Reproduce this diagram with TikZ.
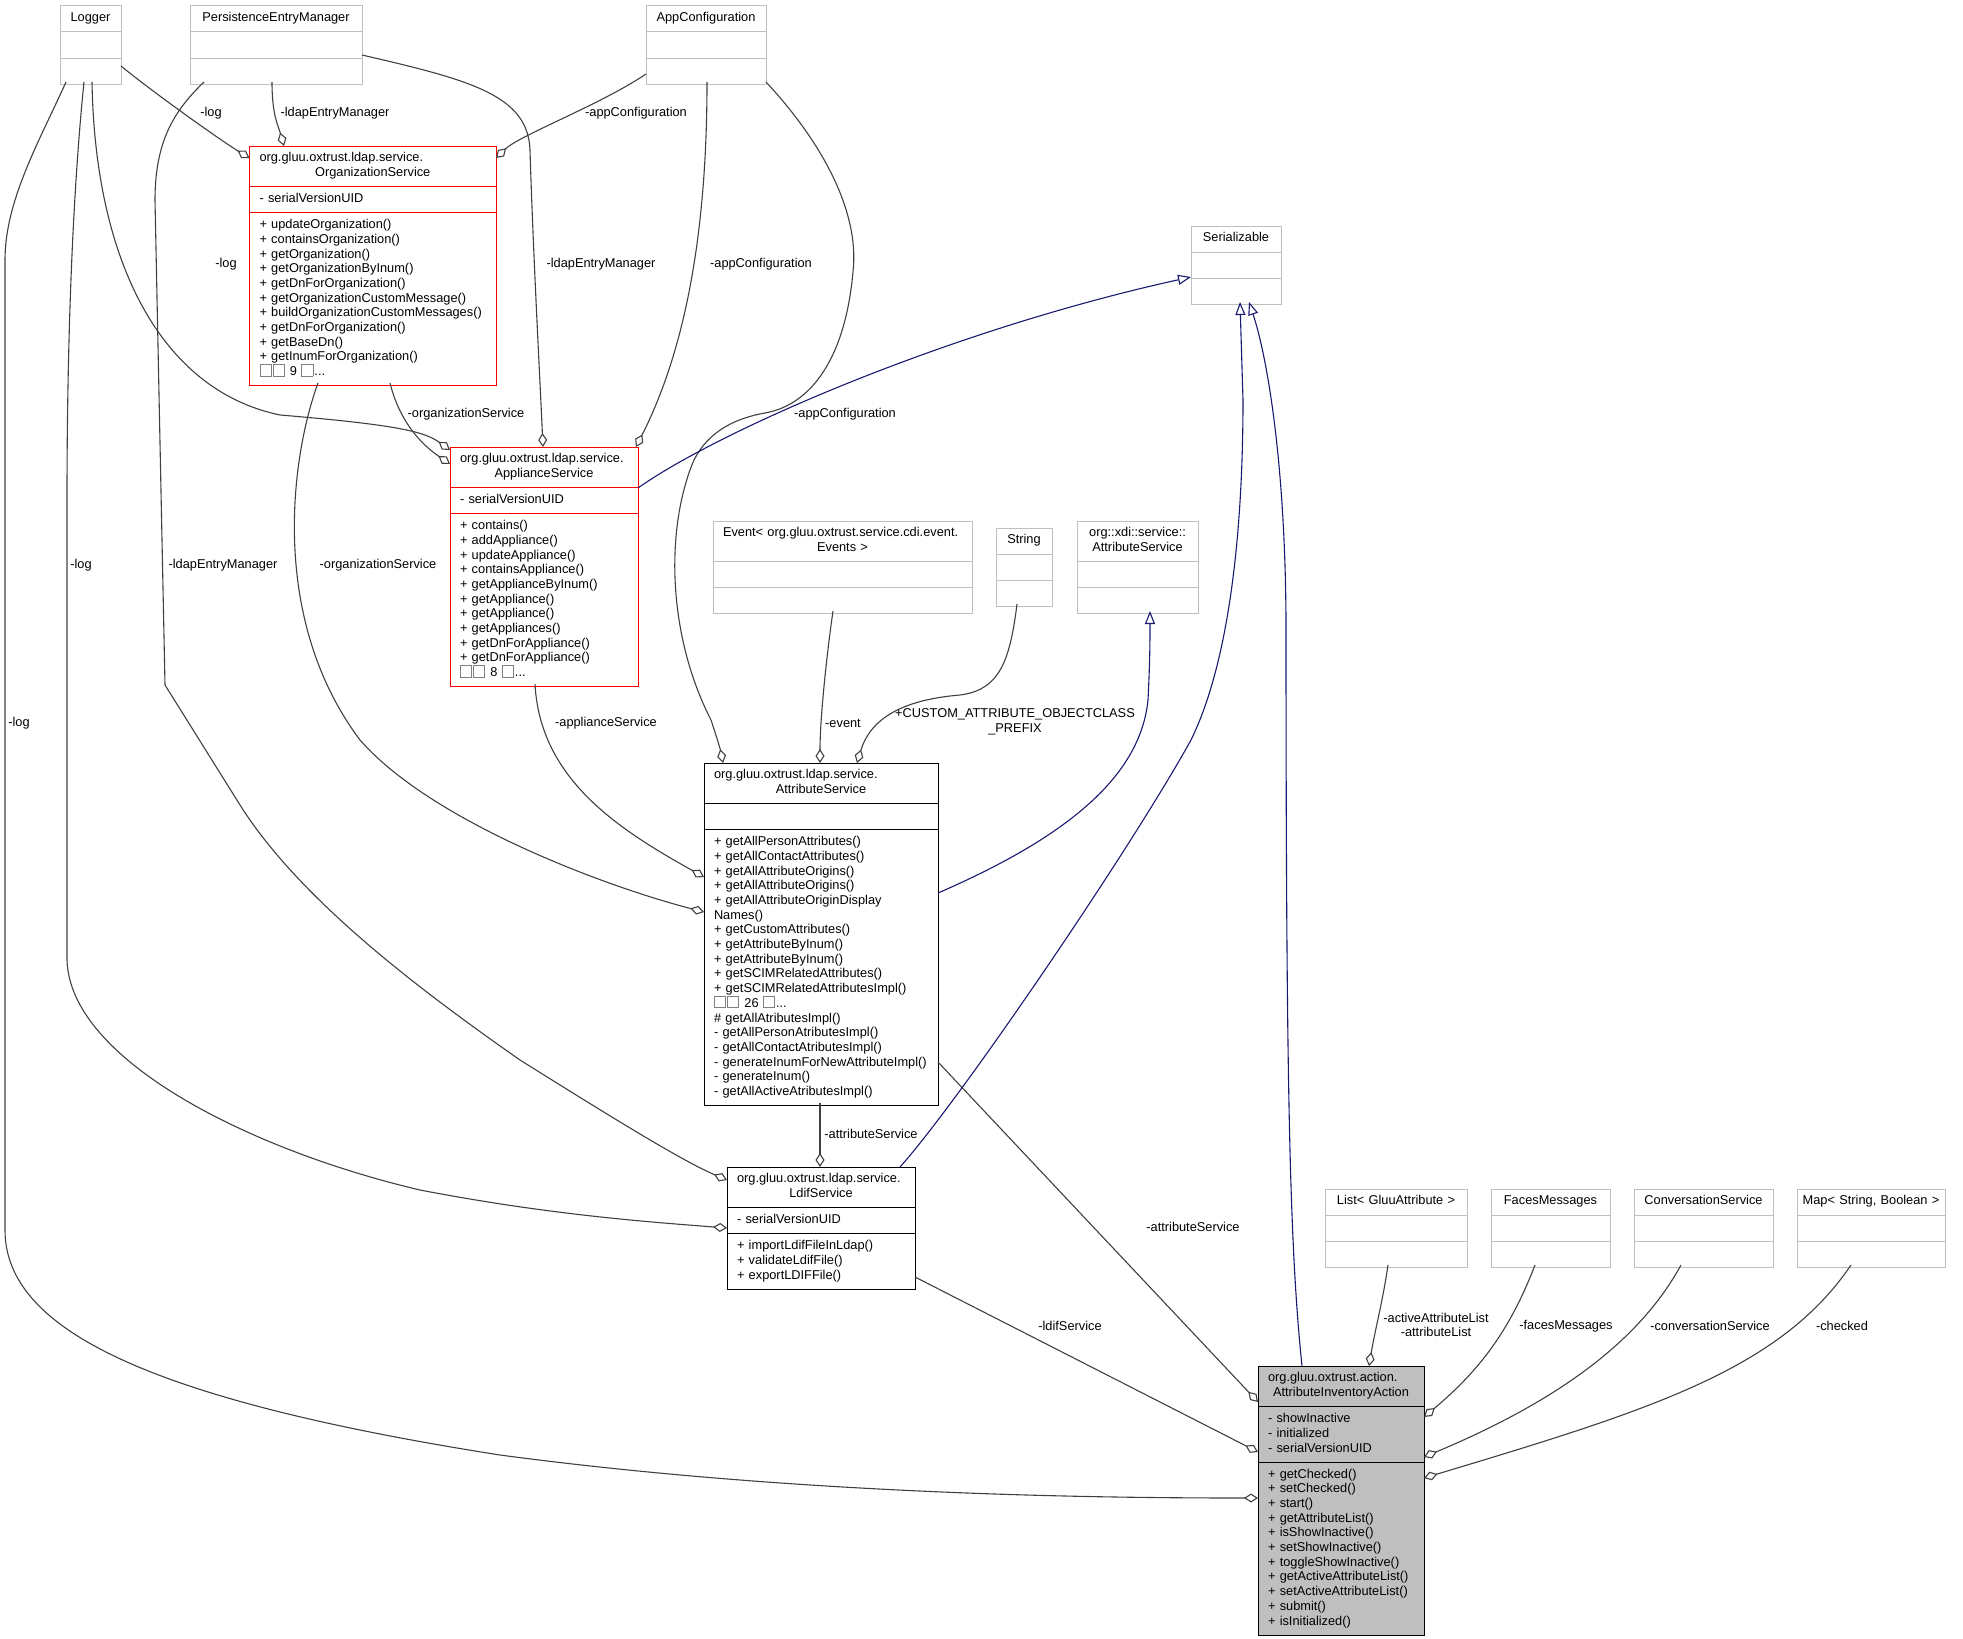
\documentclass[tikz,border=0pt]{standalone}
\usepackage{fontspec}
\setmainfont{Liberation Sans}
\usetikzlibrary{shapes.multipart}
\usetikzlibrary{arrows.meta}
\usetikzlibrary{calc}
\definecolor{boxgray}{RGB}{191,191,191}
\definecolor{edgegray}{RGB}{64,64,64}
\definecolor{inhblue}{RGB}{25,25,112}
\newcommand{\tofu}{{\color{gray}\fboxsep=0pt\fboxrule=0.8bp\fbox{\rule{0pt}{11bp}\rule{10.5bp}{0pt}}}\kern1bp}

\begin{document}
\begin{tikzpicture}[x=1bp,y=-1bp,
  classbox/.style={rectangle split,rectangle split parts=3,draw,anchor=north west,outer sep=0pt,
    inner xsep=10bp,inner ysep=5.15bp,align=left,line width=1bp,font=\fontsize{12.8bp}{14.7bp}\selectfont},
  greybox/.style={classbox,draw=boxgray},
  redbox/.style={classbox,draw=red},
  blackbox/.style={classbox,draw=black},
  agg/.style={draw=edgegray,line width=1.1bp,-{Diamond[open,length=14bp,width=9bp]}},
  inh/.style={draw=inhblue,line width=1.1bp,-{Triangle[open,length=13bp,width=10bp]}},
  lbl/.style={inner sep=0pt,align=center,font=\fontsize{12.8bp}{14.7bp}\selectfont}]
\useasboundingbox (0,0) rectangle (1963,1639);

\node[greybox,text width=41bp] (logger) at (60,6) {\centerline{\strut Logger}\nodepart{two}\strut\nodepart{three}\strut};
\node[greybox,text width=152bp] (pem) at (190,6) {\centerline{\strut PersistenceEntryManager}\nodepart{two}\strut\nodepart{three}\strut};
\node[greybox,text width=100bp] (appconf) at (646,6) {\centerline{\strut AppConfiguration}\nodepart{two}\strut\nodepart{three}\strut};
\node[greybox,text width=70bp] (serial) at (1191,226) {\centerline{\strut Serializable}\nodepart{two}\strut\nodepart{three}\strut};

\node[redbox,text width=226.5bp] (orgsvc) at (249.5,146) {\strut org.gluu.oxtrust.ldap.service.\\\centerline{\strut OrganizationService}\nodepart{two}\strut- serialVersionUID\nodepart{three}\strut+ updateOrganization()\\+ containsOrganization()\\+ getOrganization()\\+ getOrganizationByInum()\\+ getDnForOrganization()\\+ getOrganizationCustomMessage()\\+ buildOrganizationCustomMessages()\\+ getDnForOrganization()\\+ getBaseDn()\\+ getInumForOrganization()\\\tofu\tofu{} 9 \tofu...\strut};
\node[redbox,text width=168bp] (applsvc) at (450,447) {\strut org.gluu.oxtrust.ldap.service.\\\centerline{\strut ApplianceService}\nodepart{two}\strut- serialVersionUID\nodepart{three}\strut+ contains()\\+ addAppliance()\\+ updateAppliance()\\+ containsAppliance()\\+ getApplianceByInum()\\+ getAppliance()\\+ getAppliance()\\+ getAppliances()\\+ getDnForAppliance()\\+ getDnForAppliance()\\\tofu\tofu{} 8 \tofu...\strut};

\node[greybox,text width=239bp] (event) at (713,521) {\strut Event< org.gluu.oxtrust.service.cdi.event.\\\centerline{\strut Events >}\nodepart{two}\strut\nodepart{three}\strut};
\node[greybox,text width=36bp] (string) at (996,528) {\centerline{\strut String}\nodepart{two}\strut\nodepart{three}\strut};
\node[greybox,text width=101bp] (xdisvc) at (1077,521) {\centerline{\strut org::xdi::service::}\\\centerline{\strut AttributeService}\nodepart{two}\strut\nodepart{three}\strut};

\node[blackbox,text width=214bp] (attrsvc) at (704,763) {\strut org.gluu.oxtrust.ldap.service.\\\centerline{\strut AttributeService}\nodepart{two}\strut\nodepart{three}\strut+ getAllPersonAttributes()\\+ getAllContactAttributes()\\+ getAllAttributeOrigins()\\+ getAllAttributeOrigins()\\+ getAllAttributeOriginDisplay\\Names()\\+ getCustomAttributes()\\+ getAttributeByInum()\\+ getAttributeByInum()\\+ getSCIMRelatedAttributes()\\+ getSCIMRelatedAttributesImpl()\\\tofu\tofu{} 26 \tofu...\\\# getAllAtributesImpl()\\- getAllPersonAtributesImpl()\\- getAllContactAtributesImpl()\\- generateInumForNewAttributeImpl()\\- generateInum()\\- getAllActiveAtributesImpl()\strut};
\node[blackbox,text width=168bp] (ldif) at (727,1167) {\strut org.gluu.oxtrust.ldap.service.\\\centerline{\strut LdifService}\nodepart{two}\strut- serialVersionUID\nodepart{three}\strut+ importLdifFileInLdap()\\+ validateLdifFile()\\+ exportLDIFFile()\strut};

\node[greybox,text width=122bp] (glist) at (1325,1189) {\centerline{\strut List< GluuAttribute >}\nodepart{two}\strut\nodepart{three}\strut};
\node[greybox,text width=99bp] (faces) at (1491,1189) {\centerline{\strut FacesMessages}\nodepart{two}\strut\nodepart{three}\strut};
\node[greybox,text width=119bp] (convsvc) at (1634,1189) {\centerline{\strut ConversationService}\nodepart{two}\strut\nodepart{three}\strut};
\node[greybox,text width=128bp] (checkedmap) at (1797,1189) {\centerline{\strut Map< String, Boolean >}\nodepart{two}\strut\nodepart{three}\strut};

\node[blackbox,fill=boxgray,text width=146bp] (aia) at (1258,1366) {\strut org.gluu.oxtrust.action.\\\centerline{\strut AttributeInventoryAction}\nodepart{two}\strut- showInactive\\- initialized\\- serialVersionUID\strut\nodepart{three}\strut+ getChecked()\\+ setChecked()\\+ start()\\+ getAttributeList()\\+ isShowInactive()\\+ setShowInactive()\\+ toggleShowInactive()\\+ getActiveAttributeList()\\+ setActiveAttributeList()\\+ submit()\\+ isInitialized()\strut};

\draw[agg] ($(logger.north west)+(61,60)$) .. controls (150,90) and (220,140) .. ($(orgsvc.north west)+(0,12)$);
\draw[agg] ($(logger.north west)+(32,76)$) .. controls (95,260) and (160,390) .. (280,415) .. controls (400,425) and (425,432) .. ($(applsvc.north west)+(0,3)$);
\draw[agg] ($(logger.north west)+(24,76)$) .. controls (72,200) and (67,350) .. (67,500) -- (67,960) .. controls (70,1060) and (250,1150) .. (420,1190) .. controls (550,1215) and (650,1222) .. ($(ldif.north west)+(0,61)$);
\draw[agg] ($(logger.north west)+(6,76)$) .. controls (40,140) and (5,200) .. (5,260) -- (5,1230) .. controls (5,1330) and (150,1400) .. (500,1455) .. controls (800,1495) and (1100,1498) .. ($(aia.north west)+(0,132)$);

\draw[agg] ($(pem.north west)+(82,76)$) .. controls (272,115) and (278,125) .. ($(orgsvc.north west)+(34.5,0)$);
\draw[agg] ($(pem.north west)+(172,49)$) .. controls (470,80) and (528,95) .. (530,150) .. controls (533,250) and (540,380) .. ($(applsvc.north west)+(93,0)$);
\draw[agg] ($(pem.north west)+(14,76)$) .. controls (175,110) and (155,140) .. (155,200) -- (165,685) -- (240,805) .. controls (300,900) and (420,990) .. (520,1060) .. controls (600,1110) and (680,1160) .. ($(ldif.north west)+(0,13)$);

\draw[agg] ($(appconf.north west)+(0,68)$) .. controls (600,105) and (520,135) .. ($(orgsvc.north west)+(246.5,12)$);
\draw[agg] ($(appconf.north west)+(61,76)$) .. controls (707,250) and (680,360) .. ($(applsvc.north west)+(186,0)$);
\draw[agg] ($(appconf.north west)+(120,76)$) .. controls (820,140) and (860,210) .. (853,272) .. controls (845,360) and (810,405) .. (765,413) .. controls (725,420) and (700,440) .. (690,470) .. controls (665,540) and (670,640) .. (711,720) .. controls (716,735) and (720,748) .. ($(attrsvc.north west)+(19,0)$);

\draw[agg] ($(orgsvc.north west)+(140.5,237)$) .. controls (398,415) and (415,440) .. ($(applsvc.north west)+(0,17)$);
\draw[agg] ($(orgsvc.north west)+(68.5,237)$) .. controls (290,460) and (270,620) .. (360,740) .. controls (430,820) and (600,885) .. ($(attrsvc.north west)+(0,149)$);
\draw[agg] ($(applsvc.north west)+(85,237)$) .. controls (540,780) and (620,830) .. ($(attrsvc.north west)+(0,114)$);
\draw[agg] ($(event.north west)+(120,90)$) .. controls (826,660) and (820,720) .. ($(attrsvc.north west)+(116,0)$);
\draw[agg] ($(string.north west)+(21,76)$) .. controls (1010,660) and (1000,690) .. (960,695) .. controls (900,700) and (870,720) .. ($(attrsvc.north west)+(153,0)$);
\draw[agg] ($(attrsvc.north west)+(116,340)$) -- ($(ldif.north west)+(93,0)$);
\draw[agg] ($(attrsvc.north west)+(234,299)$) -- ($(aia.north west)+(0,36)$);
\draw[agg] ($(ldif.north west)+(188,110)$) -- ($(aia.north west)+(0,86)$);
\draw[agg] ($(glist.north west)+(63,76)$) .. controls (1383,1300) and (1375,1330) .. ($(aia.north west)+(111,0)$);
\draw[agg] ($(faces.north west)+(44,76)$) .. controls (1510,1330) and (1480,1370) .. ($(aia.north west)+(166,51)$);
\draw[agg] ($(convsvc.north west)+(47,76)$) .. controls (1640,1340) and (1560,1400) .. ($(aia.north west)+(166,91)$);
\draw[agg] ($(checkedmap.north west)+(54,76)$) .. controls (1780,1370) and (1650,1410) .. ($(aia.north west)+(166,112)$);

\draw[inh] ($(applsvc.north west)+(188,41)$) .. controls (720,430) and (950,330) .. ($(serial.north west)+(0,51)$);
\draw[inh] ($(attrsvc.north west)+(234,130)$) .. controls (1060,840) and (1140,780) .. (1148,700) .. controls (1150,660) and (1150,640) .. ($(xdisvc.north west)+(73,90)$);
\draw[inh] ($(ldif.north west)+(173,0)$) .. controls (960,1100) and (1130,850) .. (1191,740) .. controls (1235,650) and (1243,500) .. (1243,400) -- ($(serial.north west)+(49,76)$);
\draw[inh] ($(aia.north west)+(44,0)$) .. controls (1290,1250) and (1286,1100) .. (1286,620) .. controls (1285,450) and (1265,350) .. ($(serial.north west)+(58,76)$);

\node[lbl] (lorglog) at (211,113) {-log};
\node[lbl] (lorgpem) at (335,113) {-ldapEntryManager};
\node[lbl] (lorgconf) at (636,113) {-appConfiguration};
\node[lbl] (lapplog) at (226,264) {-log};
\node[lbl] (lapplpem) at (601,264) {-ldapEntryManager};
\node[lbl] (lapplconf) at (761,264) {-appConfiguration};
\node[lbl] (lapplorg) at (466,414) {-organizationService};
\node[lbl] (lattrconf) at (845,414) {-appConfiguration};
\node[lbl] (lattrorg) at (378,565) {-organizationService};
\node[lbl] (lldiflog) at (81,565) {-log};
\node[lbl] (lldifpem) at (223,565) {-ldapEntryManager};
\node[lbl] (laialog) at (19,723) {-log};
\node[lbl] (lattrappl) at (606,723) {-applianceService};
\node[lbl] (lattrevent) at (843,723) {-event};
\node[lbl] (lattrstr) at (1015,722) {+CUSTOM\_ATTRIBUTE\_OBJECTCLASS\\\_PREFIX};
\node[lbl] (lldifattr) at (871,1134) {-attributeService};
\node[lbl] (laiaattr) at (1193,1227) {-attributeService};
\node[lbl] (laialdif) at (1070,1326) {-ldifService};
\node[lbl] (laialist) at (1436,1325) {-activeAttributeList\\-attributeList};
\node[lbl] (laiafaces) at (1566,1326) {-facesMessages};
\node[lbl] (laiaconv) at (1710,1326) {-conversationService};
\node[lbl] (laiamap) at (1842,1326) {-checked};
\end{tikzpicture}
\end{document}
